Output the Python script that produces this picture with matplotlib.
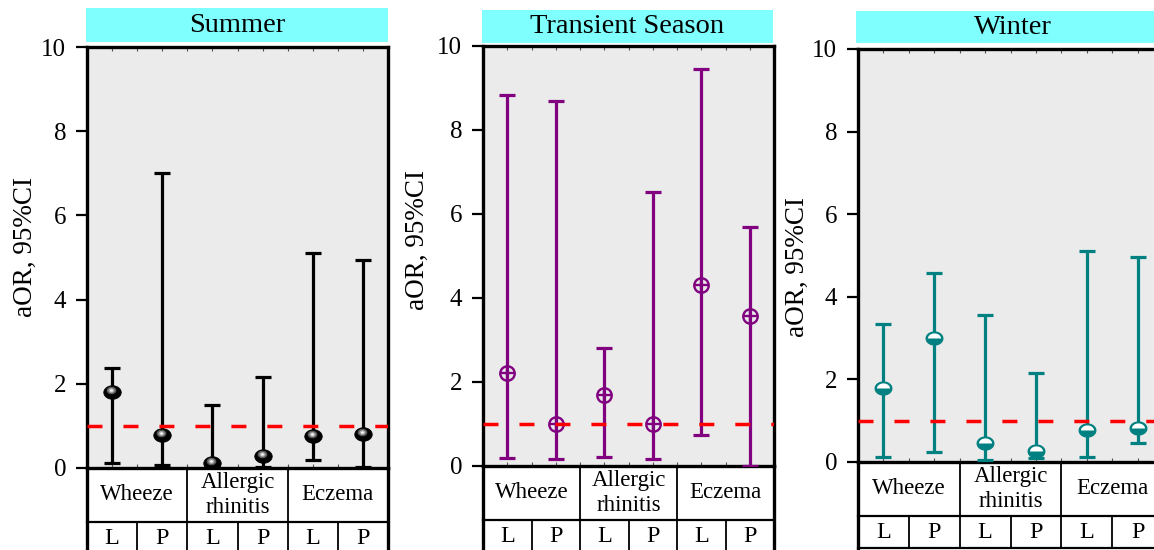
import numpy as np
import matplotlib
matplotlib.use('Agg')
import matplotlib.pyplot as plt
from matplotlib.path import Path
from matplotlib.patches import Rectangle
from matplotlib.lines import Line2D
import matplotlib.transforms as mtransforms

# ---------------- data ----------------
seasons = ["Summer", "Transient Season", "Winter"]
outcomes = ["Wheeze", "Allergic\nrhinitis", "Eczema"]
exposures = ["L", "P"]

summer_aor = [1.80, 0.79, 0.13, 0.29, 0.77, 0.81]
summer_lo = [0.12, 0.07, 0.02, 0.03, 0.18, 0.03]
summer_hi = [2.37, 7.01, 1.50, 2.15, 5.10, 4.95]

transient_aor = [2.22, 1.00, 1.68, 1.00, 4.31, 3.58]
transient_lo = [0.18, 0.16, 0.21, 0.16, 0.75, 0.00]
transient_hi = [8.84, 8.70, 2.80, 6.52, 9.45, 5.68]

winter_aor = [1.79, 3.00, 0.46, 0.27, 0.78, 0.82]
winter_lo = [0.12, 0.24, 0.05, 0.10, 0.12, 0.45]
winter_hi = [3.33, 4.57, 3.57, 2.16, 5.10, 4.96]

reference_or = 1.0
y_ticks = [0, 2, 4, 6, 8, 10]
y_label = "aOR, 95%CI"

# ---------------- style ----------------
plt.rcParams['font.family'] = ['Liberation Serif', 'DejaVu Serif']
plt.rcParams['lines.scale_dashes'] = False

W, H = 1154, 550
fig = plt.figure(figsize=(W / 100, H / 100), dpi=100)

panel_layout = [
    dict(l=87, r=388, t=47, b=468, box=(86, 388, 8, 42), lab=(25, 247), tb=554),
    dict(l=483, r=774, t=46, b=466, box=(482, 773, 10, 43), lab=(417, 240), tb=552),
    dict(l=858, r=1163, t=49, b=462, box=(856, 1170, 11, 43), lab=(797, 267), tb=548),
]
colors = ['black', '#800080', '#008080']
series = [
    (summer_aor, summer_lo, summer_hi),
    (transient_aor, transient_lo, transient_hi),
    (winter_aor, winter_lo, winter_hi),
]


def ellipse_path(ry=0.78, upper=False):
    if upper:
        t = np.linspace(0, np.pi, 40)
    else:
        t = np.linspace(0, 2 * np.pi, 73)[:-1]
    v = np.column_stack([np.cos(t), ry * np.sin(t)])
    v = np.vstack([v, v[0]])
    codes = [Path.MOVETO] + [Path.LINETO] * (len(v) - 2) + [Path.CLOSEPOLY]
    return Path(v, codes)


ell_full = ellipse_path()
ell_upper = ellipse_path(upper=True)

for i, (season, lay, col, (aor, lo, hi)) in enumerate(zip(seasons, panel_layout, colors, series)):
    l, r, t, b = lay['l'], lay['r'], lay['t'], lay['b']
    ax = fig.add_axes([l / W, 1 - b / H, (r - l) / W, (b - t) / H])
    ax.set_facecolor('#EBEBEB')
    n = len(aor)
    x = np.arange(n) + 0.5
    aor_a = np.array(aor)
    lo_a = np.array(lo)
    hi_a = np.array(hi)
    ax.errorbar(x, aor_a, yerr=[aor_a - lo_a, hi_a - aor_a], fmt='none',
                ecolor=col, elinewidth=2.3, capsize=5.6, capthick=2.3, zorder=3)

    if i == 0:
        ax.plot(x, aor_a, linestyle='none', marker=ell_full, markersize=12.6,
                markerfacecolor='black', markeredgecolor='black', markeredgewidth=0.5, zorder=4)
        off = mtransforms.offset_copy(ax.transData, fig=fig, x=-1, y=2, units='dots')
        ax.plot(x, aor_a, linestyle='none', marker=ell_full, markersize=7,
                markerfacecolor='#585858', markeredgewidth=0, transform=off, zorder=4.1)
        ax.plot(x, aor_a, linestyle='none', marker=ell_full, markersize=4.5,
                markerfacecolor='#a8a8a8', markeredgewidth=0, transform=off, zorder=4.2)
        ax.plot(x, aor_a, linestyle='none', marker=ell_full, markersize=2.2,
                markerfacecolor='#f4f4f4', markeredgewidth=0, transform=off, zorder=4.3)
    elif i == 1:
        ax.plot(x, aor_a, linestyle='none', marker='o', markersize=10.4,
                markerfacecolor='none', markeredgecolor=col, markeredgewidth=1.7, zorder=4)
        ax.plot(x, aor_a, linestyle='none', marker='+', markersize=10.4,
                markeredgecolor=col, markeredgewidth=1.7, zorder=4)
    else:
        ax.plot(x, aor_a, linestyle='none', marker=ell_full, markersize=12.0,
                markerfacecolor=col, markeredgecolor=col, markeredgewidth=0.9, zorder=4)
        ax.plot(x, aor_a, linestyle='none', marker=ell_upper, markersize=9.4,
                markerfacecolor='white', markeredgewidth=0, zorder=4.1)

    ax.axhline(reference_or, color='#FF0000', lw=2.5, dashes=(10.8, 15.1), zorder=6)

    ax.set_xlim(0, n)
    ax.set_ylim(0, 10)
    ax.set_yticks(y_ticks)
    ax.set_yticklabels([str(v) for v in y_ticks])
    ax.tick_params(axis='y', direction='out', length=8, width=1.6, labelsize=18, pad=7)
    ax.set_xticks([])
    ax.set_xticks(np.arange(0, n + 0.01, 0.5), minor=True)
    ax.tick_params(axis='x', which='minor', direction='in', length=3, width=0.8,
                   top=True, bottom=True, color='#555555')
    for sp in ax.spines.values():
        sp.set_linewidth(2.4)
        sp.set_color('black')

    # title box
    bx0, bx1, by0, by1 = lay['box']
    fig.add_artist(Rectangle((bx0 / W, 1 - by1 / H), (bx1 - bx0) / W, (by1 - by0) / H,
                             transform=fig.transFigure, facecolor='#80FFFF', edgecolor='none'))
    fig.text((bx0 + bx1) / 2 / W, 1 - (by0 + by1) / 2 / H, season, ha='center', va='center',
             fontsize=20.5)

    # y label
    fig.text(lay['lab'][0] / W, 1 - lay['lab'][1] / H, y_label, rotation=90,
             ha='center', va='center', fontsize=19.5)

    # table under axes
    tr = mtransforms.blended_transform_factory(ax.transData, fig.transFigure)
    y0 = 1 - b / H
    y1 = 1 - (b + 54) / H
    y2 = 1 - lay['tb'] / H
    lines = [
        ([0, n], [y1, y1], 1.6),
        ([0, n], [y2, y2], 1.6),
        ([0, 0], [y0, y2], 2.4),
        ([n, n], [y0, y2], 2.4),
    ]
    for k in range(1, len(outcomes)):
        xx = k * len(exposures)
        lines.append(([xx, xx], [y0, y2], 1.3))
    for k in range(len(outcomes)):
        xx = k * len(exposures) + 1
        lines.append(([xx, xx], [y1, y2], 1.3))
    for xs, ys, lw in lines:
        ax.add_artist(Line2D(xs, ys, transform=tr, color='black', lw=lw, clip_on=False))
    for k, name in enumerate(outcomes):
        ax.text(k * 2 + 1, (y0 + y1) / 2, name, transform=tr, ha='center', va='center',
                fontsize=16.5, linespacing=1.2)
        for j, ex in enumerate(exposures):
            ax.text(k * 2 + j + 0.5, (y1 + y2) / 2 - 1 / H, ex, transform=tr, ha='center',
                    va='center', fontsize=17.5)

fig.savefig('out.png', dpi=100)
